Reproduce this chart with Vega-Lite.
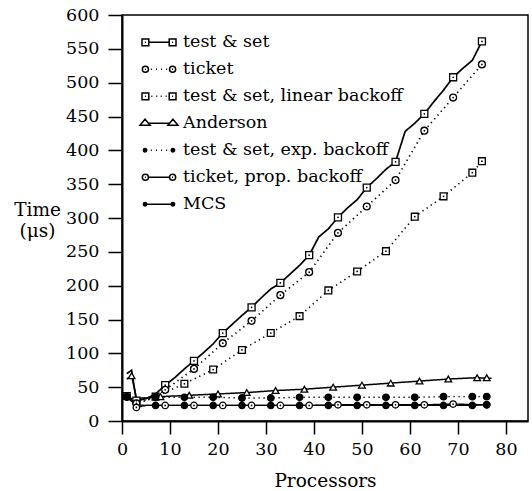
{
  "$schema": "https://vega.github.io/schema/vega-lite/v6.json",
  "autosize": {"type": "none"},
  "padding": {"left": 122, "top": 15, "right": 4, "bottom": 70},
  "width": 406,
  "height": 406,
  "background": "white",
  "config": {
    "view": {"stroke": "black", "strokeWidth": 1.5},
    "axis": {
      "domainColor": "black", "domainWidth": 2, "tickColor": "black", "tickWidth": 1.5,
      "labelFont": "DejaVu Serif", "labelFontSize": 17.5, "labelColor": "black",
      "titleFont": "DejaVu Serif", "titleFontSize": 18.5, "titleFontWeight": "normal", "titleColor": "black",
      "grid": false, "labelFlush": false, "labelOverlap": false
    }
  },
  "datasets": {
    "curve": [
      {"s": "test & set", "p": 1, "t": 70}, {"s": "test & set", "p": 2, "t": 75}, {"s": "test & set", "p": 3, "t": 30}, {"s": "test & set", "p": 5, "t": 33}, {"s": "test & set", "p": 7, "t": 40}, {"s": "test & set", "p": 9, "t": 53}, {"s": "test & set", "p": 11, "t": 64}, {"s": "test & set", "p": 13, "t": 77}, {"s": "test & set", "p": 15, "t": 89}, {"s": "test & set", "p": 17, "t": 101}, {"s": "test & set", "p": 19, "t": 114}, {"s": "test & set", "p": 21, "t": 130}, {"s": "test & set", "p": 23, "t": 143}, {"s": "test & set", "p": 25, "t": 156}, {"s": "test & set", "p": 27, "t": 168}, {"s": "test & set", "p": 29, "t": 182}, {"s": "test & set", "p": 31, "t": 195}, {"s": "test & set", "p": 33, "t": 204}, {"s": "test & set", "p": 35, "t": 217}, {"s": "test & set", "p": 37, "t": 230}, {"s": "test & set", "p": 39, "t": 245}, {"s": "test & set", "p": 41, "t": 272}, {"s": "test & set", "p": 43, "t": 284}, {"s": "test & set", "p": 45, "t": 301}, {"s": "test & set", "p": 47, "t": 315}, {"s": "test & set", "p": 49, "t": 327}, {"s": "test & set", "p": 51, "t": 345}, {"s": "test & set", "p": 53, "t": 358}, {"s": "test & set", "p": 55, "t": 372}, {"s": "test & set", "p": 57, "t": 383}, {"s": "test & set", "p": 59, "t": 428}, {"s": "test & set", "p": 61, "t": 440}, {"s": "test & set", "p": 63, "t": 454}, {"s": "test & set", "p": 65, "t": 472}, {"s": "test & set", "p": 67, "t": 489}, {"s": "test & set", "p": 69, "t": 508}, {"s": "test & set", "p": 71, "t": 521}, {"s": "test & set", "p": 73, "t": 533}, {"s": "test & set", "p": 75, "t": 561},
      {"s": "ticket", "p": 1, "t": 38}, {"s": "ticket", "p": 2, "t": 33}, {"s": "ticket", "p": 3, "t": 26}, {"s": "ticket", "p": 5, "t": 30}, {"s": "ticket", "p": 7, "t": 36}, {"s": "ticket", "p": 9, "t": 46}, {"s": "ticket", "p": 15, "t": 77}, {"s": "ticket", "p": 21, "t": 115}, {"s": "ticket", "p": 27, "t": 148}, {"s": "ticket", "p": 33, "t": 186}, {"s": "ticket", "p": 39, "t": 220}, {"s": "ticket", "p": 45, "t": 278}, {"s": "ticket", "p": 51, "t": 317}, {"s": "ticket", "p": 57, "t": 356}, {"s": "ticket", "p": 63, "t": 429}, {"s": "ticket", "p": 69, "t": 478}, {"s": "ticket", "p": 75, "t": 527},
      {"s": "test & set, linear backoff", "p": 1, "t": 37}, {"s": "test & set, linear backoff", "p": 2, "t": 31}, {"s": "test & set, linear backoff", "p": 3, "t": 27}, {"s": "test & set, linear backoff", "p": 5, "t": 31}, {"s": "test & set, linear backoff", "p": 7, "t": 36}, {"s": "test & set, linear backoff", "p": 13, "t": 55}, {"s": "test & set, linear backoff", "p": 19, "t": 76}, {"s": "test & set, linear backoff", "p": 25, "t": 105}, {"s": "test & set, linear backoff", "p": 31, "t": 130}, {"s": "test & set, linear backoff", "p": 37, "t": 155}, {"s": "test & set, linear backoff", "p": 43, "t": 193}, {"s": "test & set, linear backoff", "p": 49, "t": 221}, {"s": "test & set, linear backoff", "p": 55, "t": 251}, {"s": "test & set, linear backoff", "p": 61, "t": 302}, {"s": "test & set, linear backoff", "p": 67, "t": 332}, {"s": "test & set, linear backoff", "p": 73, "t": 367}, {"s": "test & set, linear backoff", "p": 75, "t": 384},
      {"s": "Anderson", "p": 1, "t": 62}, {"s": "Anderson", "p": 2, "t": 67}, {"s": "Anderson", "p": 3, "t": 34}, {"s": "Anderson", "p": 5, "t": 34}, {"s": "Anderson", "p": 8, "t": 36}, {"s": "Anderson", "p": 14, "t": 38}, {"s": "Anderson", "p": 20, "t": 40}, {"s": "Anderson", "p": 26, "t": 42}, {"s": "Anderson", "p": 32, "t": 45}, {"s": "Anderson", "p": 38, "t": 47}, {"s": "Anderson", "p": 44, "t": 50}, {"s": "Anderson", "p": 50, "t": 53}, {"s": "Anderson", "p": 56, "t": 56}, {"s": "Anderson", "p": 62, "t": 59}, {"s": "Anderson", "p": 68, "t": 62}, {"s": "Anderson", "p": 74, "t": 64}, {"s": "Anderson", "p": 77, "t": 63},
      {"s": "test & set, exp. backoff", "p": 1, "t": 36}, {"s": "test & set, exp. backoff", "p": 2, "t": 31}, {"s": "test & set, exp. backoff", "p": 3, "t": 27}, {"s": "test & set, exp. backoff", "p": 4, "t": 33}, {"s": "test & set, exp. backoff", "p": 7, "t": 35}, {"s": "test & set, exp. backoff", "p": 13, "t": 35}, {"s": "test & set, exp. backoff", "p": 19, "t": 35}, {"s": "test & set, exp. backoff", "p": 25, "t": 34}, {"s": "test & set, exp. backoff", "p": 31, "t": 34}, {"s": "test & set, exp. backoff", "p": 37, "t": 35}, {"s": "test & set, exp. backoff", "p": 43, "t": 35}, {"s": "test & set, exp. backoff", "p": 49, "t": 35}, {"s": "test & set, exp. backoff", "p": 55, "t": 35}, {"s": "test & set, exp. backoff", "p": 61, "t": 35}, {"s": "test & set, exp. backoff", "p": 67, "t": 36}, {"s": "test & set, exp. backoff", "p": 73, "t": 36}, {"s": "test & set, exp. backoff", "p": 76, "t": 36},
      {"s": "ticket, prop. backoff", "p": 1, "t": 40}, {"s": "ticket, prop. backoff", "p": 2, "t": 32}, {"s": "ticket, prop. backoff", "p": 3, "t": 20}, {"s": "ticket, prop. backoff", "p": 5, "t": 23}, {"s": "ticket, prop. backoff", "p": 9, "t": 23}, {"s": "ticket, prop. backoff", "p": 15, "t": 23}, {"s": "ticket, prop. backoff", "p": 21, "t": 23}, {"s": "ticket, prop. backoff", "p": 27, "t": 23}, {"s": "ticket, prop. backoff", "p": 33, "t": 23}, {"s": "ticket, prop. backoff", "p": 39, "t": 23}, {"s": "ticket, prop. backoff", "p": 45, "t": 24}, {"s": "ticket, prop. backoff", "p": 51, "t": 24}, {"s": "ticket, prop. backoff", "p": 57, "t": 24}, {"s": "ticket, prop. backoff", "p": 63, "t": 24}, {"s": "ticket, prop. backoff", "p": 69, "t": 25}, {"s": "ticket, prop. backoff", "p": 76, "t": 24},
      {"s": "MCS", "p": 1, "t": 35}, {"s": "MCS", "p": 2, "t": 29}, {"s": "MCS", "p": 3, "t": 24}, {"s": "MCS", "p": 5, "t": 23}, {"s": "MCS", "p": 7, "t": 23}, {"s": "MCS", "p": 13, "t": 23}, {"s": "MCS", "p": 19, "t": 23}, {"s": "MCS", "p": 25, "t": 23}, {"s": "MCS", "p": 31, "t": 23}, {"s": "MCS", "p": 37, "t": 23}, {"s": "MCS", "p": 43, "t": 23}, {"s": "MCS", "p": 49, "t": 23}, {"s": "MCS", "p": 55, "t": 23}, {"s": "MCS", "p": 61, "t": 23}, {"s": "MCS", "p": 67, "t": 23}, {"s": "MCS", "p": 73, "t": 23}, {"s": "MCS", "p": 76, "t": 24}
    ],
    "marks": [
      {"s": "test & set", "p": 3, "t": 30}, {"s": "test & set", "p": 9, "t": 53}, {"s": "test & set", "p": 15, "t": 89}, {"s": "test & set", "p": 21, "t": 130}, {"s": "test & set", "p": 27, "t": 168}, {"s": "test & set", "p": 33, "t": 204}, {"s": "test & set", "p": 39, "t": 245}, {"s": "test & set", "p": 45, "t": 301}, {"s": "test & set", "p": 51, "t": 345}, {"s": "test & set", "p": 57, "t": 383}, {"s": "test & set", "p": 63, "t": 454}, {"s": "test & set", "p": 69, "t": 508}, {"s": "test & set", "p": 75, "t": 561},
      {"s": "ticket", "p": 3, "t": 26}, {"s": "ticket", "p": 9, "t": 46}, {"s": "ticket", "p": 15, "t": 77}, {"s": "ticket", "p": 21, "t": 115}, {"s": "ticket", "p": 27, "t": 148}, {"s": "ticket", "p": 33, "t": 186}, {"s": "ticket", "p": 39, "t": 220}, {"s": "ticket", "p": 45, "t": 278}, {"s": "ticket", "p": 51, "t": 317}, {"s": "ticket", "p": 57, "t": 356}, {"s": "ticket", "p": 63, "t": 429}, {"s": "ticket", "p": 69, "t": 478}, {"s": "ticket", "p": 75, "t": 527},
      {"s": "test & set, linear backoff", "p": 1, "t": 37}, {"s": "test & set, linear backoff", "p": 7, "t": 36}, {"s": "test & set, linear backoff", "p": 13, "t": 55}, {"s": "test & set, linear backoff", "p": 19, "t": 76}, {"s": "test & set, linear backoff", "p": 25, "t": 105}, {"s": "test & set, linear backoff", "p": 31, "t": 130}, {"s": "test & set, linear backoff", "p": 37, "t": 155}, {"s": "test & set, linear backoff", "p": 43, "t": 193}, {"s": "test & set, linear backoff", "p": 49, "t": 221}, {"s": "test & set, linear backoff", "p": 55, "t": 251}, {"s": "test & set, linear backoff", "p": 61, "t": 302}, {"s": "test & set, linear backoff", "p": 67, "t": 332}, {"s": "test & set, linear backoff", "p": 73, "t": 367}, {"s": "test & set, linear backoff", "p": 75, "t": 384},
      {"s": "Anderson", "p": 2, "t": 67}, {"s": "Anderson", "p": 8, "t": 36}, {"s": "Anderson", "p": 14, "t": 38}, {"s": "Anderson", "p": 20, "t": 40}, {"s": "Anderson", "p": 26, "t": 42}, {"s": "Anderson", "p": 32, "t": 45}, {"s": "Anderson", "p": 38, "t": 47}, {"s": "Anderson", "p": 44, "t": 50}, {"s": "Anderson", "p": 50, "t": 53}, {"s": "Anderson", "p": 56, "t": 56}, {"s": "Anderson", "p": 62, "t": 59}, {"s": "Anderson", "p": 68, "t": 62}, {"s": "Anderson", "p": 74, "t": 64}, {"s": "Anderson", "p": 76, "t": 64},
      {"s": "test & set, exp. backoff", "p": 1, "t": 36}, {"s": "test & set, exp. backoff", "p": 7, "t": 35}, {"s": "test & set, exp. backoff", "p": 13, "t": 35}, {"s": "test & set, exp. backoff", "p": 19, "t": 35}, {"s": "test & set, exp. backoff", "p": 25, "t": 34}, {"s": "test & set, exp. backoff", "p": 31, "t": 34}, {"s": "test & set, exp. backoff", "p": 37, "t": 35}, {"s": "test & set, exp. backoff", "p": 43, "t": 35}, {"s": "test & set, exp. backoff", "p": 49, "t": 35}, {"s": "test & set, exp. backoff", "p": 55, "t": 35}, {"s": "test & set, exp. backoff", "p": 61, "t": 35}, {"s": "test & set, exp. backoff", "p": 67, "t": 36}, {"s": "test & set, exp. backoff", "p": 73, "t": 36}, {"s": "test & set, exp. backoff", "p": 76, "t": 36},
      {"s": "ticket, prop. backoff", "p": 3, "t": 20}, {"s": "ticket, prop. backoff", "p": 9, "t": 23}, {"s": "ticket, prop. backoff", "p": 15, "t": 23}, {"s": "ticket, prop. backoff", "p": 21, "t": 23}, {"s": "ticket, prop. backoff", "p": 27, "t": 23}, {"s": "ticket, prop. backoff", "p": 33, "t": 23}, {"s": "ticket, prop. backoff", "p": 39, "t": 23}, {"s": "ticket, prop. backoff", "p": 45, "t": 24}, {"s": "ticket, prop. backoff", "p": 51, "t": 24}, {"s": "ticket, prop. backoff", "p": 57, "t": 24}, {"s": "ticket, prop. backoff", "p": 63, "t": 24}, {"s": "ticket, prop. backoff", "p": 69, "t": 25}, {"s": "ticket, prop. backoff", "p": 76, "t": 24},
      {"s": "MCS", "p": 1, "t": 35}, {"s": "MCS", "p": 7, "t": 23}, {"s": "MCS", "p": 13, "t": 23}, {"s": "MCS", "p": 19, "t": 23}, {"s": "MCS", "p": 25, "t": 23}, {"s": "MCS", "p": 31, "t": 23}, {"s": "MCS", "p": 37, "t": 23}, {"s": "MCS", "p": 43, "t": 23}, {"s": "MCS", "p": 49, "t": 23}, {"s": "MCS", "p": 55, "t": 23}, {"s": "MCS", "p": 61, "t": 23}, {"s": "MCS", "p": 67, "t": 23}, {"s": "MCS", "p": 73, "t": 23}, {"s": "MCS", "p": 76, "t": 24}
    ]
  },
  "encoding": {
    "x": {"field": "p", "type": "quantitative", "scale": {"domain": [0, 84.6], "nice": false},
      "axis": {"values": [0, 10, 20, 30, 40, 50, 60, 70, 80], "title": "Processors", "titleBaseline": "alphabetic", "titleY": 65, "labelPadding": 6, "tickSize": 13}},
    "y": {"field": "t", "type": "quantitative", "scale": {"domain": [0, 600], "nice": false},
      "axis": {"values": [0, 50, 100, 150, 200, 250, 300, 350, 400, 450, 500, 550, 600], "title": ["Time", "(μs)"], "titleAngle": 0, "titleAlign": "center", "titleBaseline": "alphabetic", "titleX": -85, "titleY": 200, "titleLineHeight": 21, "labelPadding": 9, "tickSize": 14}}
  },
  "layer": [
    {
      "data": {"name": "curve"},
      "mark": {"type": "line", "color": "black"},
      "encoding": {
        "detail": {"field": "s", "type": "nominal"},
        "strokeDash": {"field": "s", "type": "nominal", "legend": null,
          "scale": {"domain": ["test & set", "ticket", "test & set, linear backoff", "Anderson", "test & set, exp. backoff", "ticket, prop. backoff", "MCS"],
            "range": [[1, 0], [1.3, 3.7], [1.3, 3.7], [1, 0], [1.3, 3.7], [1, 0], [1, 0]]}},
        "strokeWidth": {"field": "s", "type": "nominal", "legend": null,
          "scale": {"domain": ["test & set", "ticket", "test & set, linear backoff", "Anderson", "test & set, exp. backoff", "ticket, prop. backoff", "MCS"],
            "range": [1.7, 1.3, 1.3, 1.4, 1.3, 1.7, 2.4]}}
      }
    },
    {
      "data": {"name": "marks"},
      "mark": {"type": "point", "filled": true, "stroke": "black", "strokeWidth": 1.3, "opacity": 1},
      "encoding": {
        "shape": {"field": "s", "type": "nominal", "legend": null,
          "scale": {"domain": ["test & set", "ticket", "test & set, linear backoff", "Anderson", "test & set, exp. backoff", "ticket, prop. backoff", "MCS"],
            "range": ["square", "circle", "square", "triangle-up", "circle", "circle", "circle"]}},
        "size": {"field": "s", "type": "nominal", "legend": null,
          "scale": {"domain": ["test & set", "ticket", "test & set, linear backoff", "Anderson", "test & set, exp. backoff", "ticket, prop. backoff", "MCS"],
            "range": [49, 40, 49, 90, 9, 45, 11]}},
        "fill": {"field": "s", "type": "nominal", "legend": null,
          "scale": {"domain": ["test & set", "ticket", "test & set, linear backoff", "Anderson", "test & set, exp. backoff", "ticket, prop. backoff", "MCS"],
            "range": ["white", "white", "white", "white", "black", "white", "black"]}}
      }
    },
    {
      "data": {"name": "marks"},
      "transform": [{"filter": {"field": "s", "oneOf": ["test & set", "ticket", "test & set, linear backoff", "ticket, prop. backoff"]}}],
      "mark": {"type": "point", "filled": true, "color": "black", "size": 3, "opacity": 1}
    },
    {
      "data": {"name": "marks"},
      "transform": [{"filter": "false"}],
      "mark": {"type": "point", "filled": false, "color": "black", "strokeWidth": 1.5, "size": 1156, "opacity": 1},
      "encoding": {
        "shape": {"field": "s", "type": "nominal",
          "scale": {"domain": ["test & set", "ticket", "test & set, linear backoff", "Anderson", "test & set, exp. backoff", "ticket, prop. backoff", "MCS"],
            "range": [
              "M-1 -0.2H-0.6V0.2H-1ZM0.6 -0.2H1V0.2H0.6ZM-0.6 0H0.6M-0.83 0H-0.77M0.77 0H0.83",
              "M-0.98 0A0.18 0.18 0 1 0 -0.62 0A0.18 0.18 0 1 0 -0.98 0ZM0.62 0A0.18 0.18 0 1 0 0.98 0A0.18 0.18 0 1 0 0.62 0ZM-0.83 0H-0.77M0.77 0H0.83M-0.48 0H-0.42M-0.18 0H-0.12M0.12 0H0.18M0.42 0H0.48",
              "M-1 -0.2H-0.6V0.2H-1ZM0.6 -0.2H1V0.2H0.6ZM-0.83 0H-0.77M0.77 0H0.83M-0.45 0H-0.39M-0.16 0H-0.1M0.1 0H0.16M0.39 0H0.45",
              "M-0.82 -0.24L-0.52 0.12L-1.12 0.12ZM0.82 -0.24L1.12 0.12L0.52 0.12ZM-0.62 0H0.62",
              "M-0.92 0A0.1 0.1 0 1 0 -0.72 0A0.1 0.1 0 1 0 -0.92 0ZM-0.86 0A0.04 0.04 0 1 0 -0.78 0A0.04 0.04 0 1 0 -0.86 0ZM0.72 0A0.1 0.1 0 1 0 0.92 0A0.1 0.1 0 1 0 0.72 0ZM0.78 0A0.04 0.04 0 1 0 0.86 0A0.04 0.04 0 1 0 0.78 0ZM-0.48 0H-0.42M-0.18 0H-0.12M0.12 0H0.18M0.42 0H0.48",
              "M-0.98 0A0.18 0.18 0 1 0 -0.62 0A0.18 0.18 0 1 0 -0.98 0ZM0.62 0A0.18 0.18 0 1 0 0.98 0A0.18 0.18 0 1 0 0.62 0ZM-0.83 0H-0.77M0.77 0H0.83M-0.62 0H0.62",
              "M-0.92 0A0.1 0.1 0 1 0 -0.72 0A0.1 0.1 0 1 0 -0.92 0ZM-0.86 0A0.04 0.04 0 1 0 -0.78 0A0.04 0.04 0 1 0 -0.86 0ZM0.72 0A0.1 0.1 0 1 0 0.92 0A0.1 0.1 0 1 0 0.72 0ZM0.78 0A0.04 0.04 0 1 0 0.86 0A0.04 0.04 0 1 0 0.78 0ZM-0.72 0H0.72"
            ]},
          "legend": {
            "title": null, "orient": "none", "legendX": 19, "legendY": 9.3, "direction": "vertical",
            "symbolSize": 1156, "symbolStrokeWidth": 1.5,
            "symbolOffset": 0, "labelOffset": 6, "rowPadding": -9.9, "padding": 0,
            "labelFont": "DejaVu Serif", "labelFontSize": 17.5, "labelColor": "black", "labelLimit": 0,
            "encode": {"symbols": {"update": {"stroke": {"value": "black"}, "fill": {"value": "white"}, "opacity": {"value": 1}, "strokeWidth": {"value": 1.5}}}}
          }
        }
      }
    }
  ],
  "resolve": {"scale": {"shape": "independent", "size": "independent"}, "legend": {"shape": "independent"}}
}
